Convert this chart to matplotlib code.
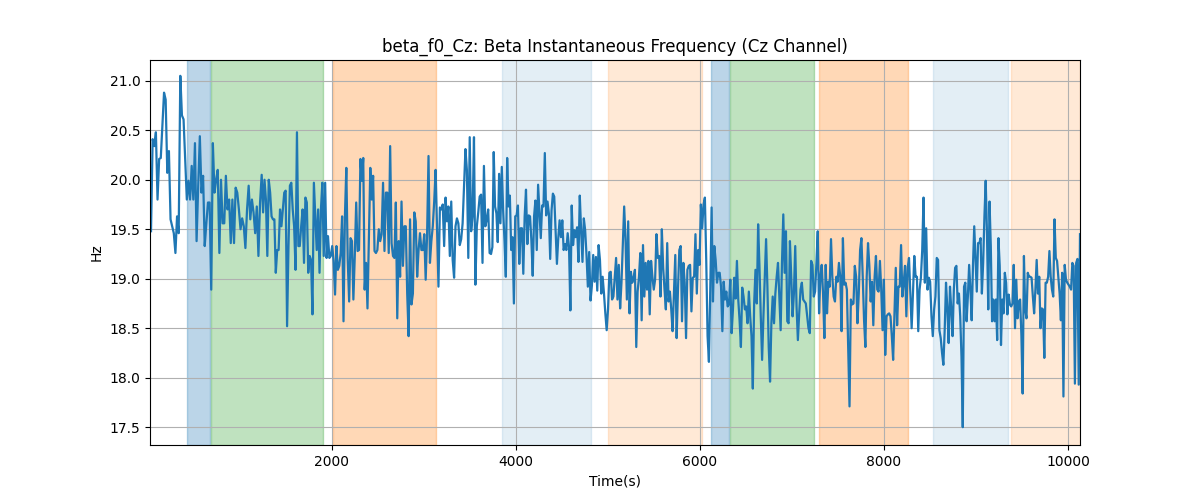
import numpy as np
import matplotlib
matplotlib.use("Agg")
import matplotlib.pyplot as plt

# Segment values (Hz), read left to right
seg1 = [19.48, 20.41, 20.34, 20.48, 19.80, 20.21, 20.22, 20.55, 20.88, 20.81, 20.07, 20.29, 19.60, 19.53,
        19.46, 19.26, 19.63, 19.46, 21.05, 20.65, 20.61, 20.21, 19.80, 19.99, 19.80, 20.14, 19.80, 20.37,
        19.38, 19.94, 20.44, 19.87, 20.04, 19.33, 19.56, 19.77, 19.77, 18.89, 20.37, 19.87, 20.00, 20.10,
        19.26, 20.00, 19.56, 19.56, 20.04, 19.70, 19.80, 19.36, 19.80, 19.36, 19.92, 19.87, 19.70, 19.50,
        19.61, 19.53, 19.31, 19.70, 19.94, 19.60, 19.80, 19.67, 19.46, 19.73, 19.23, 19.77]
seg2 = [20.05, 19.67, 20.00, 19.80, 19.23, 20.00, 19.87, 19.63, 19.60, 19.60, 19.06, 19.29, 19.29, 19.70,
        19.53, 19.70, 19.87, 19.89, 18.52, 19.33, 19.94, 19.97, 19.70, 19.53, 19.09, 20.48, 19.33, 19.33,
        19.53, 19.70, 19.16, 19.82, 19.77, 19.06, 19.23, 19.19, 18.64, 19.97, 19.63, 19.29, 19.70, 19.06,
        19.70, 19.97, 19.23, 19.97, 19.21, 19.43, 19.21, 19.23, 19.33, 19.18, 18.84, 19.33, 19.09, 19.13,
        19.26, 19.63, 18.57, 19.63, 20.12, 19.19, 18.77, 19.41, 19.38, 18.79, 19.23, 19.77, 19.28, 19.29,
        20.21, 19.99, 20.22, 18.89, 19.16, 18.70, 19.43, 20.12, 19.80, 20.04, 19.28]
seg3 = [19.26, 19.29, 19.50, 19.38, 19.45, 19.97, 19.28, 19.87, 19.87, 19.26, 20.34, 19.36, 19.23, 19.21,
        19.77, 18.60, 19.38, 19.02, 19.78, 19.13, 19.53, 19.53, 18.85, 18.42, 19.60, 18.74, 18.85, 19.67,
        19.58, 19.02, 19.29, 19.46, 19.29, 19.29, 19.45, 18.99, 19.45, 20.24, 19.16, 19.38, 19.53, 19.78,
        20.10, 19.53, 18.92, 19.72, 19.70, 19.75, 19.33, 19.82, 19.58, 19.73, 19.23, 19.78, 19.19, 19.01,
        19.53, 19.61, 19.56, 19.34, 19.40, 19.56, 19.94, 20.31, 20.10, 19.21, 20.43, 19.48, 19.63, 20.43,
        18.94, 19.53, 19.67, 19.83, 19.85, 19.16, 20.14, 19.53, 19.60, 19.70, 19.26]
seg4 = [19.25, 19.32, 20.28, 19.73, 19.66, 19.37, 20.06, 19.56, 20.13, 19.69, 19.39, 19.02, 20.22, 19.73,
        19.84, 19.29, 19.42, 18.75, 19.63, 19.64, 19.74, 19.15, 19.51, 19.51, 19.05, 19.63, 19.90, 19.35,
        19.64, 19.63, 19.39, 19.03, 19.63, 19.79, 19.29, 19.95, 19.69, 19.41, 19.74, 19.73, 20.27, 19.64,
        19.78, 19.66, 19.20, 19.69, 19.86, 19.83, 19.49, 19.15, 19.41, 19.59, 19.42, 19.59, 19.29, 19.35,
        19.29, 19.46, 19.32, 18.68, 19.74, 19.34, 19.49, 19.42, 19.52, 19.17, 19.84, 19.49, 19.17, 19.61,
        19.49, 19.24, 18.92, 19.27, 18.78, 18.93, 19.24, 18.97, 19.22, 18.88, 19.34, 19.19, 18.85, 19.02,
        18.85, 18.65]
seg5 = [18.48, 18.69, 19.06, 19.07, 18.79, 18.82, 19.02, 19.21, 18.79, 19.14, 18.70, 18.96, 19.36, 19.73,
        19.40, 18.79, 19.58, 18.65, 19.07, 18.96, 19.01, 19.09, 18.31, 18.87, 19.02, 19.26, 18.58, 19.34,
        18.82, 19.16, 18.89, 19.18, 18.64, 19.18, 19.02, 18.89, 18.99, 19.45, 19.21, 19.23, 18.82, 19.50,
        19.11, 18.89, 18.69, 19.36, 18.77, 18.87, 18.69, 18.47, 18.87, 19.24, 18.40, 18.89, 19.29, 19.33,
        18.57, 19.16, 18.96, 18.40, 19.09, 19.13, 19.14, 18.67, 19.01, 19.02, 19.45, 18.85, 19.29, 19.14,
        19.75, 19.51, 19.75, 19.82, 19.19, 18.42, 18.16, 18.89, 19.72, 18.77, 19.33, 19.19, 18.96, 19.06,
        19.06]
seg6 = [18.92, 18.47, 18.97, 18.79, 18.87, 18.72, 18.74, 18.99, 18.45, 18.69, 19.01, 18.80, 19.18, 18.79,
        18.58, 18.31, 18.91, 18.82, 18.69, 18.72, 18.55, 18.87, 18.62, 18.42, 17.89, 18.75, 19.09, 18.75,
        19.55, 19.13, 18.62, 18.18, 18.62, 19.02, 19.40, 18.92, 18.31, 17.96, 18.55, 18.82, 18.55, 18.85,
        19.02, 19.16, 18.82, 18.48, 19.16, 19.65, 19.06, 19.48, 18.57, 18.55, 19.38, 19.02, 18.62, 18.85,
        19.33, 18.72, 18.38, 18.65, 18.89, 18.96, 18.79, 18.77, 18.75, 18.62, 18.50, 18.45, 19.18, 19.14,
        18.82, 18.87, 19.16, 19.48, 18.65, 19.02, 19.14, 18.85, 18.40, 19.14, 18.65, 18.97, 18.92, 19.40,
        19.02, 18.82, 18.77]
seg7 = [19.02, 18.97, 19.16, 19.02, 18.47, 19.41, 18.94, 18.96, 18.89, 18.28, 17.71, 18.79, 18.74, 18.75,
        19.13, 19.02, 18.55, 18.85, 19.29, 19.41, 19.02, 18.58, 18.31, 19.02, 19.36, 19.13, 18.77, 18.97,
        18.53, 19.02, 19.23, 18.89, 18.87, 19.18, 18.89, 18.48, 18.99, 18.23, 18.62, 18.64, 18.65, 18.62,
        18.42, 18.18, 18.65, 19.11, 18.53, 18.92, 18.92, 19.34, 18.82, 18.96, 19.13, 18.62, 19.11, 19.21,
        18.85, 18.50, 18.85, 19.23, 19.02, 19.02, 18.47, 18.89, 19.01, 19.29, 19.82, 18.96, 19.51, 18.89,
        19.01, 18.97, 18.62, 18.42, 18.69, 18.82, 19.21, 19.19, 18.48, 18.40, 18.25, 18.13, 18.48, 18.96,
        18.70, 18.35, 18.92]
seg8 = [18.69, 18.42, 18.89, 19.11, 19.13, 18.75, 18.85, 18.62, 18.21, 17.50, 18.92, 18.96, 18.57, 18.82,
        19.14, 18.89, 18.58, 19.13, 19.53, 19.19, 18.87, 19.36, 19.36, 19.41, 18.85, 19.16, 19.63, 19.99,
        19.46, 18.69, 19.78, 19.33, 18.57, 18.79, 18.57, 18.79, 18.38, 19.41, 19.13, 18.33, 18.79, 18.65,
        19.06, 18.96, 18.64, 18.84, 18.74, 18.72, 18.75, 19.14, 18.50, 18.99, 18.60, 18.77, 18.79, 18.43,
        17.84, 19.23, 18.69, 18.60, 19.06, 19.02, 19.02, 19.01, 18.82, 18.65, 18.89, 19.19, 18.85, 19.02,
        18.50, 18.70, 18.69, 18.20, 18.96, 18.96, 19.02, 19.28, 19.02, 18.89, 18.82, 19.60, 19.21, 19.18,
        19.02, 18.85, 18.58, 19.06, 17.81, 19.14, 18.99, 18.96, 18.94, 18.92, 18.89, 19.16, 19.13, 17.94,
        19.16, 19.20, 17.93, 19.45]

segments = [seg1, seg2, seg3, seg4, seg5, seg6, seg7, seg8]
# time boundaries (s) of each segment
seg_bounds = [33, 1236, 2478, 3729, 4986, 6229, 7482, 8732, 10131]

# shaded intervals: (start, end, color, alpha)
span_start = [424, 690, 2011, 3848, 5000, 6120, 6330, 7294, 8533, 9381]
span_end = [674, 1902, 3131, 4815, 6022, 6315, 7239, 8261, 9348, 10131]
span_color = ['C0', 'C2', 'C1', 'C0', 'C1', 'C0', 'C2', 'C1', 'C0', 'C1']
span_alpha = [0.3, 0.3, 0.3, 0.12, 0.17, 0.3, 0.3, 0.3, 0.12, 0.17]

times = []
for i, seg in enumerate(segments):
    n = len(seg)
    last = (i == len(segments) - 1)
    times.append(np.linspace(seg_bounds[i], seg_bounds[i + 1], n, endpoint=last))
t = np.concatenate(times)
y = np.concatenate([np.asarray(s, dtype=float) for s in segments])

fig, ax = plt.subplots(figsize=(12, 5), dpi=100)
for s, e, c, a in zip(span_start, span_end, span_color, span_alpha):
    ax.axvspan(s, e, color=c, alpha=a)
ax.plot(t, y, color='C0', linewidth=1.6)
ax.set_xlim(t[0] - 11, t[-1])
ax.set_ylim(17.32, 21.21)
ax.grid(True)
ax.set_title("beta_f0_Cz: Beta Instantaneous Frequency (Cz Channel)")
ax.set_xlabel("Time(s)")
ax.set_ylabel("Hz")
fig.savefig("out.png", dpi=100)
